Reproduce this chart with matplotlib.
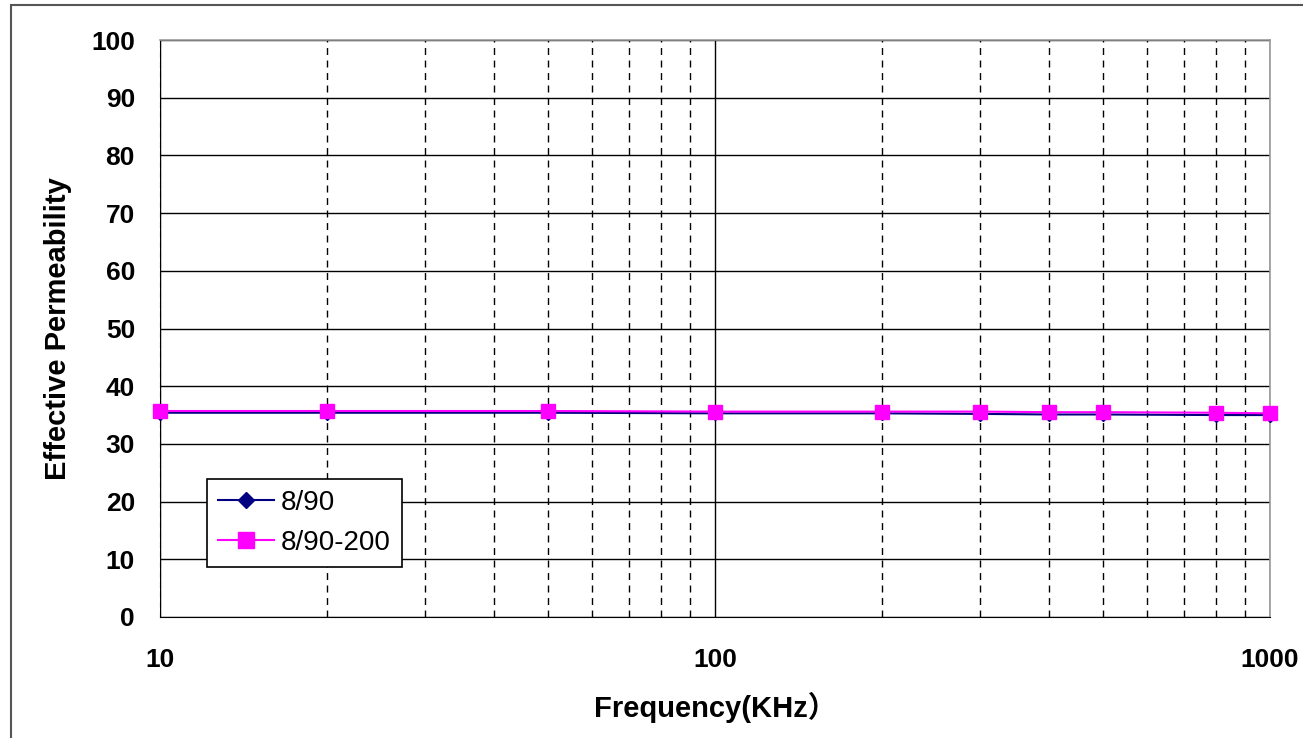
import matplotlib
matplotlib.use("Agg")
import matplotlib.pyplot as plt
from matplotlib.ticker import FixedLocator, NullFormatter, FixedFormatter
from matplotlib.patches import Rectangle

plt.rcParams['font.family'] = ['Liberation Sans', 'Noto Sans CJK SC', 'DejaVu Sans']

freq = [10, 20, 50, 100, 200, 300, 400, 500, 800, 1000]
mu_890 = [35.4, 35.4, 35.4, 35.3, 35.3, 35.2, 35.1, 35.1, 35.0, 35.0]
mu_890_200 = [35.7, 35.7, 35.7, 35.6, 35.6, 35.6, 35.5, 35.5, 35.4, 35.3]
yticks = list(range(0, 101, 10))
xlabels = ['10', '100', '1000']

fig = plt.figure(figsize=(13.03, 7.38), dpi=100)
ax = fig.add_axes([160/1303, 1-617/738, 1110/1303, 577/738])

fig.patches.append(Rectangle((11/1303, -0.05), 1.1, 1.05-5/738, transform=fig.transFigure,
                             fill=False, edgecolor='#555555', linewidth=1.5))

ax.set_xscale('log')
ax.set_xlim(10, 1000)
ax.set_ylim(0, 100)

ax.xaxis.set_major_locator(FixedLocator([10, 100, 1000]))
ax.xaxis.set_major_formatter(FixedFormatter(xlabels))
minors = [m * d for d in (10, 100) for m in range(2, 10)]
ax.xaxis.set_minor_locator(FixedLocator(minors))
ax.xaxis.set_minor_formatter(NullFormatter())
ax.set_yticks(yticks)

ax.grid(True, which='major', axis='y', color='black', linewidth=1.0)
ax.grid(True, which='major', axis='x', color='black', linewidth=1.0)
ax.grid(True, which='minor', axis='x', color='black', linewidth=1.0, linestyle=(0, (5, 4)))
ax.set_axisbelow(True)

ax.tick_params(axis='both', which='both', length=0)
ax.tick_params(axis='x', pad=22, labelsize=19)
ax.tick_params(axis='y', pad=18, labelsize=19)
for lab in ax.get_xticklabels() + ax.get_yticklabels():
    lab.set_fontweight('bold')

for s in ['top', 'right']:
    ax.spines[s].set_color('#999999')
    ax.spines[s].set_linewidth(1.2)
ax.spines['left'].set_linestyle((0, (5, 4)))
ax.spines['left'].set_color('black')
ax.spines['bottom'].set_color('black')

ax.plot(freq, mu_890, color='#000080', marker='D', markersize=7, linewidth=1.5,
        label='8/90', clip_on=False, zorder=3)
ax.plot(freq, mu_890_200, color='#FF00FF', marker='s', markersize=10, linewidth=1.5,
        label='8/90-200', clip_on=False, zorder=4)

ax.set_xlabel('Frequency(KHz）', fontsize=21, fontweight='bold', labelpad=15)
ax.set_ylabel('Effective Permeability', fontsize=21, fontweight='bold', labelpad=14)

leg = ax.legend(loc='lower left', bbox_to_anchor=(0.0423, 0.0867), borderaxespad=0,
                fontsize=20, frameon=True, fancybox=False, edgecolor='black', framealpha=1,
                handlelength=2.0, borderpad=0.4, labelspacing=0.5, handletextpad=0.25,
                markerscale=1.1)
leg.get_frame().set_linewidth(1.2)

fig.savefig('out.png', dpi=100)
